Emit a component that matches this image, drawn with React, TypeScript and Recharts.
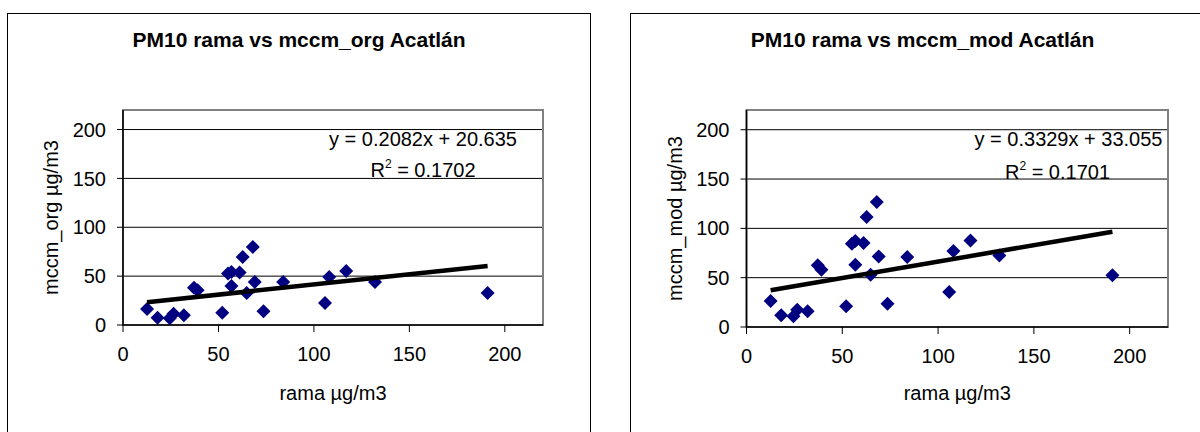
import { ScatterChart, Scatter, XAxis, YAxis, CartesianGrid, ReferenceArea, Label } from 'recharts';

// values
const rama = [12.6, 18.1, 24.5, 26.5, 31.9, 37.2, 39.1, 52, 55, 56.8, 56.8, 61.1, 62.7, 64.8, 68, 69, 73.6, 83.9, 105.8, 108, 116.9, 132, 191];
const mccmOrg = [16.4, 7.5, 6.8, 11.6, 9.9, 38.2, 35.5, 12.6, 52.6, 54.3, 40, 53.6, 69.6, 32.8, 79.9, 44, 14, 44, 22.5, 49.1, 55.3, 44, 32.8];
const mccmMod = [26.4, 11.8, 10.8, 17.6, 15.9, 62.5, 58.1, 21, 84.5, 87.2, 63.2, 85.1, 111.5, 53, 126.7, 71.6, 23.6, 70.9, 35.5, 77, 87.8, 72.6, 52.4];

// linear trendline end points
const trendX = [12.6, 191];
const trendOrg = [23.3, 60.4];
const trendMod = [37.2, 96.6];

const axisTicks = [0, 50, 100, 150, 200];

const toPoints = (xs: number[], ys: number[]) => xs.map((x, i) => ({ x, y: ys[i] }));

const Diamond = (props: any) => {
    const { cx, cy } = props;
    const r = 7;
    return (
        <polygon
            points={`${cx},${cy - r} ${cx + r},${cy} ${cx},${cy + r} ${cx - r},${cy}`}
            fill="#000080"
        />
    );
};

type PanelProps = {
    left: number;
    width: number;
    title: string;
    titleX: number;
    yLabel: string;
    yLabelOffset: number;
    marginLeft: number;
    marginRight: number;
    xAxisHeight: number;
    points: { x: number; y: number }[];
    trend: { x: number; y: number }[];
    eq: string;
    eqX: number;
    r2: string;
    r2X: number;
    r2Y: number;
};

const Panel = (p: PanelProps) => {
    const tickStyle = { fontSize: 20, fill: '#000' };
    return (
        <div style={{ position: 'absolute', left: p.left, top: 0 }}>
            <ScatterChart
                width={p.width}
                height={432}
                margin={{ top: 110, right: p.marginRight, bottom: 32, left: p.marginLeft }}
            >
                <ReferenceArea x1={0} x2={220} y1={0} y2={220} fill="none" stroke="#808080" strokeWidth={2} />
                <CartesianGrid vertical={false} stroke="#000" strokeWidth={1} />
                <XAxis
                    type="number"
                    dataKey="x"
                    domain={[0, 220]}
                    ticks={axisTicks}
                    height={p.xAxisHeight}
                    tickSize={7}
                    tickMargin={15}
                    tick={tickStyle}
                    axisLine={{ stroke: '#000', strokeWidth: 1.5 }}
                    tickLine={{ stroke: '#000' }}
                >
                    <Label value="rama µg/m3" position="insideBottom" offset={0} style={{ fontSize: 20, fill: '#000' }} />
                </XAxis>
                <YAxis
                    type="number"
                    dataKey="y"
                    domain={[0, 220]}
                    ticks={axisTicks}
                    width={100}
                    tickSize={6}
                    tickMargin={11}
                    tick={tickStyle}
                    axisLine={{ stroke: '#000', strokeWidth: 1.5 }}
                    tickLine={{ stroke: '#000' }}
                >
                    <Label
                        value={p.yLabel}
                        angle={-90}
                        position="insideLeft"
                        offset={p.yLabelOffset}
                        style={{ fontSize: 20, fill: '#000', textAnchor: 'middle' }}
                    />
                </YAxis>
                <Scatter data={p.points} shape={Diamond} isAnimationActive={false} />
                <Scatter
                    data={p.trend}
                    line={{ stroke: '#000', strokeWidth: 4.5 }}
                    shape={() => <g />}
                    isAnimationActive={false}
                />
                <text x={p.titleX} y={47} textAnchor="middle" fontSize={21} fontWeight="bold" fill="#000">
                    {p.title}
                </text>
                <text x={p.eqX} y={146} textAnchor="middle" fontSize={20} fill="#000">
                    {p.eq}
                </text>
                <text x={p.r2X} y={p.r2Y} textAnchor="middle" fontSize={20} fill="#000">
                    R<tspan dy={-9} fontSize={12}>2</tspan>
                    <tspan dy={9}>{' = ' + p.r2}</tspan>
                </text>
            </ScatterChart>
        </div>
    );
};

export default function App() {
    return (
        <div
            style={{
                position: 'absolute',
                left: 0,
                top: 0,
                width: 1200,
                height: 432,
                overflow: 'hidden',
                background: '#fff',
                fontFamily: '"Liberation Sans", Arial, sans-serif',
            }}
        >
            <div style={{ position: 'absolute', left: 7, top: 13, width: 582, height: 440, border: '1px solid #000' }} />
            <div style={{ position: 'absolute', left: 630, top: 13, width: 600, height: 440, border: '1px solid #000' }} />
            <Panel
                left={7}
                width={583}
                title="PM10 rama vs mccm_org Acatlán"
                titleX={292}
                yLabel="mccm_org µg/m3"
                yLabelOffset={27.5}
                marginLeft={16}
                marginRight={47}
                xAxisHeight={75}
                points={toPoints(rama, mccmOrg)}
                trend={toPoints(trendX, trendOrg)}
                eq="y = 0.2082x + 20.635"
                eqX={416}
                r2="0.1702"
                r2X={416}
                r2Y={177}
            />
            <Panel
                left={630}
                width={570}
                title="PM10 rama vs mccm_mod Acatlán"
                titleX={292.6}
                yLabel="mccm_mod µg/m3"
                yLabelOffset={28.5}
                marginLeft={16.5}
                marginRight={32}
                xAxisHeight={73}
                points={toPoints(rama, mccmMod)}
                trend={toPoints(trendX, trendMod)}
                eq="y = 0.3329x + 33.055"
                eqX={438.5}
                r2="0.1701"
                r2X={427.5}
                r2Y={179}
            />
        </div>
    );
}
